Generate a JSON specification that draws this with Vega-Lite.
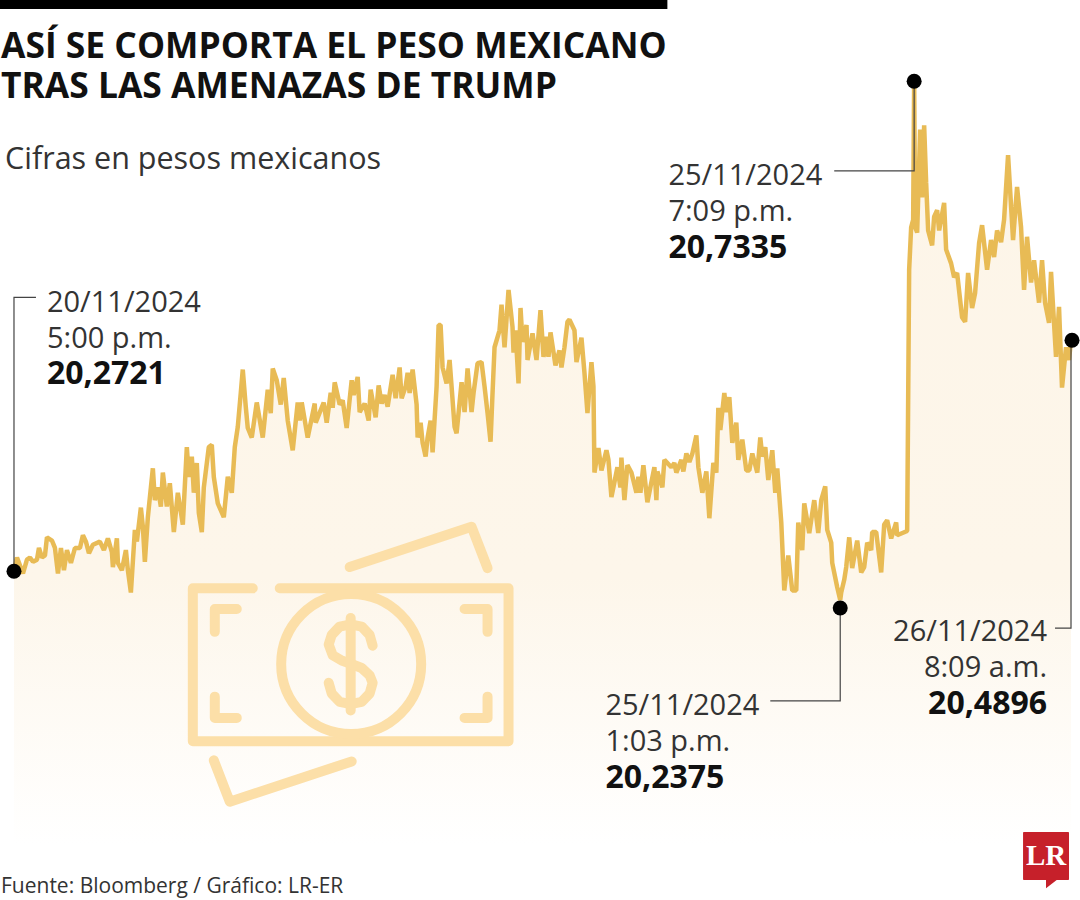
{
"$schema":"https://vega.github.io/schema/vega-lite/v6.json",
"width":1080,"height":900,
"autosize":{"type":"fit","contains":"padding"},
"padding":0,
"background":"white",
"config":{"view":{"stroke":null}},
"datasets":{
"series":[
{"t":14,"v":20.273},{"t":17,"v":20.285},{"t":19,"v":20.28},{"t":23,"v":20.27},{"t":27,"v":20.283},{"t":30,"v":20.285},{"t":33,"v":20.281},{"t":37,"v":20.283},{"t":39,"v":20.294},{"t":42,"v":20.285},{"t":45,"v":20.287},{"t":47,"v":20.304},{"t":52,"v":20.301},{"t":55,"v":20.294},{"t":58,"v":20.27},{"t":61,"v":20.294},{"t":64,"v":20.273},{"t":67,"v":20.292},{"t":71,"v":20.28},{"t":75,"v":20.294},{"t":80,"v":20.294},{"t":83,"v":20.306},{"t":86,"v":20.3},{"t":89,"v":20.289},{"t":93,"v":20.297},{"t":100,"v":20.3},{"t":104,"v":20.292},{"t":108,"v":20.303},{"t":112,"v":20.29},{"t":113,"v":20.276},{"t":117,"v":20.303},{"t":118,"v":20.28},{"t":122,"v":20.273},{"t":126,"v":20.292},{"t":128,"v":20.273},{"t":131,"v":20.252},{"t":135,"v":20.311},{"t":137,"v":20.3},{"t":141,"v":20.332},{"t":143,"v":20.314},{"t":145,"v":20.281},{"t":148,"v":20.323},{"t":153,"v":20.369},{"t":155,"v":20.339},{"t":158,"v":20.351},{"t":161,"v":20.333},{"t":163,"v":20.365},{"t":167,"v":20.333},{"t":170,"v":20.355},{"t":174,"v":20.309},{"t":178,"v":20.346},{"t":183,"v":20.316},{"t":187,"v":20.389},{"t":189,"v":20.361},{"t":192,"v":20.38},{"t":194,"v":20.346},{"t":197,"v":20.374},{"t":199,"v":20.327},{"t":202,"v":20.309},{"t":204,"v":20.351},{"t":209,"v":20.389},{"t":212,"v":20.391},{"t":214,"v":20.361},{"t":218,"v":20.336},{"t":224,"v":20.323},{"t":228,"v":20.361},{"t":232,"v":20.346},{"t":235,"v":20.389},{"t":238,"v":20.408},{"t":241,"v":20.44},{"t":243,"v":20.462},{"t":246,"v":20.427},{"t":248,"v":20.407},{"t":252,"v":20.398},{"t":257,"v":20.431},{"t":263,"v":20.398},{"t":268,"v":20.443},{"t":271,"v":20.421},{"t":273,"v":20.463},{"t":277,"v":20.452},{"t":281,"v":20.429},{"t":284,"v":20.454},{"t":288,"v":20.414},{"t":293,"v":20.386},{"t":298,"v":20.431},{"t":300,"v":20.414},{"t":302,"v":20.431},{"t":308,"v":20.398},{"t":315,"v":20.43},{"t":316,"v":20.412},{"t":324,"v":20.431},{"t":327,"v":20.412},{"t":331,"v":20.44},{"t":333,"v":20.426},{"t":335,"v":20.45},{"t":340,"v":20.429},{"t":343,"v":20.433},{"t":347,"v":20.407},{"t":352,"v":20.452},{"t":354,"v":20.438},{"t":358,"v":20.455},{"t":360,"v":20.422},{"t":365,"v":20.43},{"t":369,"v":20.414},{"t":371,"v":20.443},{"t":376,"v":20.417},{"t":379,"v":20.447},{"t":382,"v":20.43},{"t":385,"v":20.438},{"t":388,"v":20.427},{"t":393,"v":20.457},{"t":396,"v":20.435},{"t":400,"v":20.464},{"t":402,"v":20.435},{"t":406,"v":20.446},{"t":408,"v":20.459},{"t":410,"v":20.44},{"t":413,"v":20.462},{"t":417,"v":20.429},{"t":418,"v":20.398},{"t":421,"v":20.412},{"t":423,"v":20.393},{"t":426,"v":20.38},{"t":428,"v":20.398},{"t":431,"v":20.414},{"t":433,"v":20.384},{"t":437,"v":20.446},{"t":439,"v":20.504},{"t":441,"v":20.504},{"t":443,"v":20.464},{"t":447,"v":20.449},{"t":450,"v":20.471},{"t":452,"v":20.446},{"t":455,"v":20.408},{"t":457,"v":20.402},{"t":462,"v":20.45},{"t":465,"v":20.422},{"t":468,"v":20.463},{"t":472,"v":20.422},{"t":474,"v":20.44},{"t":478,"v":20.468},{"t":482,"v":20.469},{"t":485,"v":20.446},{"t":488,"v":20.421},{"t":491,"v":20.394},{"t":493,"v":20.44},{"t":495,"v":20.483},{"t":500,"v":20.499},{"t":502,"v":20.523},{"t":505,"v":20.483},{"t":509,"v":20.537},{"t":513,"v":20.502},{"t":514,"v":20.478},{"t":516,"v":20.499},{"t":519,"v":20.449},{"t":521,"v":20.52},{"t":523,"v":20.488},{"t":527,"v":20.504},{"t":528,"v":20.471},{"t":533,"v":20.496},{"t":537,"v":20.471},{"t":541,"v":20.518},{"t":544,"v":20.474},{"t":547,"v":20.493},{"t":549,"v":20.474},{"t":551,"v":20.497},{"t":556,"v":20.466},{"t":560,"v":20.48},{"t":562,"v":20.464},{"t":565,"v":20.483},{"t":568,"v":20.507},{"t":570,"v":20.509},{"t":575,"v":20.499},{"t":577,"v":20.469},{"t":582,"v":20.492},{"t":585,"v":20.459},{"t":588,"v":20.421},{"t":592,"v":20.469},{"t":594,"v":20.446},{"t":595,"v":20.365},{"t":599,"v":20.388},{"t":602,"v":20.367},{"t":607,"v":20.386},{"t":609,"v":20.377},{"t":612,"v":20.342},{"t":618,"v":20.37},{"t":621,"v":20.351},{"t":622,"v":20.379},{"t":625,"v":20.339},{"t":628,"v":20.372},{"t":632,"v":20.365},{"t":637,"v":20.346},{"t":639,"v":20.361},{"t":641,"v":20.346},{"t":644,"v":20.372},{"t":648,"v":20.337},{"t":655,"v":20.37},{"t":657,"v":20.339},{"t":658,"v":20.366},{"t":663,"v":20.351},{"t":665,"v":20.377},{"t":672,"v":20.37},{"t":675,"v":20.374},{"t":677,"v":20.365},{"t":682,"v":20.377},{"t":684,"v":20.366},{"t":687,"v":20.383},{"t":690,"v":20.375},{"t":693,"v":20.383},{"t":697,"v":20.4},{"t":699,"v":20.37},{"t":703,"v":20.346},{"t":707,"v":20.366},{"t":710,"v":20.322},{"t":714,"v":20.374},{"t":717,"v":20.365},{"t":719,"v":20.426},{"t":721,"v":20.405},{"t":725,"v":20.44},{"t":727,"v":20.422},{"t":730,"v":20.436},{"t":733,"v":20.393},{"t":737,"v":20.412},{"t":739,"v":20.377},{"t":743,"v":20.396},{"t":747,"v":20.367},{"t":750,"v":20.367},{"t":753,"v":20.383},{"t":758,"v":20.365},{"t":761,"v":20.398},{"t":763,"v":20.38},{"t":766,"v":20.389},{"t":769,"v":20.358},{"t":773,"v":20.386},{"t":776,"v":20.346},{"t":778,"v":20.369},{"t":782,"v":20.318},{"t":785,"v":20.254},{"t":789,"v":20.287},{"t":793,"v":20.254},{"t":797,"v":20.254},{"t":799,"v":20.318},{"t":803,"v":20.292},{"t":805,"v":20.336},{"t":810,"v":20.308},{"t":815,"v":20.339},{"t":819,"v":20.308},{"t":822,"v":20.339},{"t":826,"v":20.352},{"t":828,"v":20.311},{"t":832,"v":20.299},{"t":833,"v":20.28},{"t":838,"v":20.257},{"t":841,"v":20.245},{"t":842,"v":20.252},{"t":845,"v":20.264},{"t":847,"v":20.276},{"t":850,"v":20.304},{"t":853,"v":20.275},{"t":858,"v":20.301},{"t":862,"v":20.271},{"t":865,"v":20.276},{"t":868,"v":20.299},{"t":872,"v":20.292},{"t":873,"v":20.309},{"t":877,"v":20.309},{"t":882,"v":20.271},{"t":885,"v":20.316},{"t":888,"v":20.32},{"t":892,"v":20.303},{"t":897,"v":20.318},{"t":898,"v":20.306},{"t":908,"v":20.31},{"t":909,"v":20.433},{"t":910,"v":20.556},{"t":912,"v":20.596},{"t":914,"v":20.603},{"t":915,"v":20.7335},{"t":916,"v":20.596},{"t":918,"v":20.591},{"t":921,"v":20.688},{"t":923,"v":20.624},{"t":925,"v":20.692},{"t":927,"v":20.638},{"t":929,"v":20.593},{"t":933,"v":20.579},{"t":935,"v":20.606},{"t":938,"v":20.612},{"t":940,"v":20.593},{"t":945,"v":20.619},{"t":947,"v":20.575},{"t":952,"v":20.562},{"t":955,"v":20.549},{"t":958,"v":20.553},{"t":963,"v":20.511},{"t":966,"v":20.507},{"t":969,"v":20.553},{"t":973,"v":20.52},{"t":976,"v":20.534},{"t":980,"v":20.581},{"t":983,"v":20.598},{"t":988,"v":20.556},{"t":992,"v":20.584},{"t":995,"v":20.568},{"t":998,"v":20.593},{"t":1002,"v":20.582},{"t":1005,"v":20.603},{"t":1009,"v":20.664},{"t":1014,"v":20.584},{"t":1018,"v":20.634},{"t":1022,"v":20.596},{"t":1025,"v":20.537},{"t":1028,"v":20.587},{"t":1032,"v":20.544},{"t":1035,"v":20.565},{"t":1040,"v":20.525},{"t":1043,"v":20.565},{"t":1046,"v":20.525},{"t":1050,"v":20.506},{"t":1052,"v":20.554},{"t":1057,"v":20.474},{"t":1060,"v":20.521},{"t":1063,"v":20.445},{"t":1067,"v":20.483},{"t":1070,"v":20.471},{"t":1072,"v":20.4896}
],
"icon":[
{"part":"a","o":1,"t":350,"v":20.276},{"part":"a","o":2,"t":472,"v":20.314},{"part":"a","o":3,"t":488,"v":20.275},
{"part":"b","o":1,"t":214,"v":20.094},{"part":"b","o":2,"t":230,"v":20.055},{"part":"b","o":3,"t":352,"v":20.093},
{"part":"c","o":1,"t":253,"v":20.256},{"part":"c","o":2,"t":193,"v":20.256},{"part":"c","o":3,"t":193,"v":20.112},{"part":"c","o":4,"t":509,"v":20.112},{"part":"c","o":5,"t":509,"v":20.256},{"part":"c","o":6,"t":280,"v":20.256},
{"part":"d","o":1,"t":215,"v":20.215},{"part":"d","o":2,"t":215,"v":20.2365},{"part":"d","o":3,"t":237,"v":20.2365},
{"part":"e","o":1,"t":465,"v":20.2365},{"part":"e","o":2,"t":488,"v":20.2365},{"part":"e","o":3,"t":488,"v":20.215},
{"part":"f","o":1,"t":215,"v":20.154},{"part":"f","o":2,"t":215,"v":20.134},{"part":"f","o":3,"t":237,"v":20.134},
{"part":"g","o":1,"t":465,"v":20.134},{"part":"g","o":2,"t":488,"v":20.134},{"part":"g","o":3,"t":488,"v":20.154},
{"part":"h","o":1,"t":351,"v":20.228},{"part":"h","o":2,"t":351,"v":20.141},
{"part":"s","o":1,"t":373,"v":20.202},{"part":"s","o":2,"t":370,"v":20.212},{"part":"s","o":3,"t":362,"v":20.22},{"part":"s","o":4,"t":351,"v":20.222},{"part":"s","o":5,"t":340,"v":20.22},{"part":"s","o":6,"t":332,"v":20.212},{"part":"s","o":7,"t":329,"v":20.203},{"part":"s","o":8,"t":333,"v":20.193},{"part":"s","o":9,"t":342,"v":20.188},{"part":"s","o":10,"t":351,"v":20.185},{"part":"s","o":11,"t":362,"v":20.181},{"part":"s","o":12,"t":370,"v":20.174},{"part":"s","o":13,"t":373,"v":20.167},{"part":"s","o":14,"t":370,"v":20.157},{"part":"s","o":15,"t":362,"v":20.149},{"part":"s","o":16,"t":351,"v":20.147},{"part":"s","o":17,"t":340,"v":20.149},{"part":"s","o":18,"t":332,"v":20.157},{"part":"s","o":19,"t":329,"v":20.167}
],
"leaders":[
{"part":"a","o":1,"t":36,"v":20.53},{"part":"a","o":2,"t":14,"v":20.53},{"part":"a","o":3,"t":14,"v":20.2721},
{"part":"b","o":1,"t":835,"v":20.649},{"part":"b","o":2,"t":915,"v":20.649},{"part":"b","o":3,"t":915,"v":20.7335},
{"part":"c","o":1,"t":771,"v":20.15},{"part":"c","o":2,"t":841,"v":20.15},{"part":"c","o":3,"t":841,"v":20.2375},
{"part":"d","o":1,"t":1056,"v":20.2186},{"part":"d","o":2,"t":1072,"v":20.2186},{"part":"d","o":3,"t":1072,"v":20.4896}
],
"labels":[
{"kind":"title","t":1,"v":20.7554,"label":"ASÍ SE COMPORTA EL PESO MEXICANO"},
{"kind":"title","t":1,"v":20.7177,"label":"TRAS LAS AMENAZAS DE TRUMP"},
{"kind":"sub","t":5,"v":20.6509,"label":"Cifras en pesos mexicanos"},
{"kind":"date","t":47,"v":20.5162,"label":"20/11/2024"},
{"kind":"date","t":47,"v":20.4823,"label":"5:00 p.m."},
{"kind":"value","t":47,"v":20.4484,"label":"20,2721"},
{"kind":"date","t":669,"v":20.6358,"label":"25/11/2024"},
{"kind":"date","t":669,"v":20.6019,"label":"7:09 p.m."},
{"kind":"value","t":669,"v":20.5671,"label":"20,7335"},
{"kind":"date","t":606,"v":20.1367,"label":"25/11/2024"},
{"kind":"date","t":606,"v":20.1028,"label":"1:03 p.m."},
{"kind":"value","t":606,"v":20.068,"label":"20,2375"},
{"kind":"dater","t":1048,"v":20.2064,"label":"26/11/2024"},
{"kind":"dater","t":1048,"v":20.1725,"label":"8:09 a.m."},
{"kind":"valuer","t":1048,"v":20.1377,"label":"20,4896"},
{"kind":"source","t":1,"v":19.9691,"label":"Fuente: Bloomberg / Gráfico: LR-ER"}
]
},
"encoding":{
"x":{"field":"t","type":"quantitative","axis":null,"scale":{"domain":[0,1080],"nice":false,"zero":false}},
"y":{"field":"v","type":"quantitative","axis":null,"scale":{"domain":[19.9625,20.81],"nice":false,"zero":false}}
},
"layer":[
{"data":{"name":"series"},"mark":{"type":"area","fill":{"gradient":"linear","x1":0,"y1":0,"x2":0,"y2":1,"stops":[{"offset":0,"color":"#fdf5e8"},{"offset":0.65,"color":"#fdf6ea"},{"offset":1,"color":"#ffffff"}]},"stroke":null},"encoding":{"y2":{"datum":20.015}}},
{"data":{"name":"icon"},"mark":{"type":"line","stroke":"#fcdfa8","strokeWidth":10,"strokeCap":"round","strokeJoin":"round"},"encoding":{"detail":{"field":"part"},"order":{"field":"o"}}},
{"data":{"values":[{"t":351.5,"v":20.1847}]},"mark":{"type":"point","shape":"circle","size":19600,"filled":false,"stroke":"#fcdfa8","strokeWidth":10,"opacity":1}},
{"data":{"name":"series"},"mark":{"type":"line","stroke":"#e8bb55","strokeWidth":4.5,"strokeJoin":"bevel"}},
{"data":{"name":"leaders"},"mark":{"type":"line","stroke":"#444444","strokeWidth":1.2},"encoding":{"detail":{"field":"part"},"order":{"field":"o"}}},
{"data":{"values":[{"t":14,"v":20.2721},{"t":915,"v":20.7335},{"t":841,"v":20.2375},{"t":1073,"v":20.4896}]},"mark":{"type":"point","shape":"circle","filled":true,"fill":"#000000","stroke":null,"size":225,"opacity":1}},
{"data":{"values":[{"t":0,"v":20.81,"t2":668,"v2":20.8015}]},"mark":{"type":"rect","fill":"#000000"},"encoding":{"x2":{"field":"t2"},"y2":{"field":"v2"}}},
{"data":{"values":[{"t":1024,"v":20.0265,"t2":1070,"v2":19.9813}]},"mark":{"type":"rect","fill":"#c6202a","cornerRadius":1},"encoding":{"x2":{"field":"t2"},"y2":{"field":"v2"}}},
{"data":{"values":[{"t":1052,"v":19.9769}]},"mark":{"type":"point","shape":"M -1 -1 L 1.2 -1 L -1 0.7 Z","size":100,"filled":true,"fill":"#c6202a","stroke":null,"opacity":1}},
{"data":{"values":[{"t":1047,"v":19.9955,"label":"LR"}]},"mark":{"type":"text","font":"Liberation Serif","fontWeight":"bold","fontSize":29,"fill":"#ffffff","align":"center","baseline":"alphabetic"},"encoding":{"text":{"field":"label"}}},
{"data":{"name":"labels"},"transform":[{"filter":"datum.kind=='title'"}],"mark":{"type":"text","font":"Open Sans","fontWeight":"bold","fontSize":35.4,"fill":"#111111","align":"left","baseline":"alphabetic"},"encoding":{"text":{"field":"label"}}},
{"data":{"name":"labels"},"transform":[{"filter":"datum.kind=='sub'"}],"mark":{"type":"text","font":"Open Sans","fontSize":30.5,"fill":"#333333","align":"left","baseline":"alphabetic"},"encoding":{"text":{"field":"label"}}},
{"data":{"name":"labels"},"transform":[{"filter":"datum.kind=='date'"}],"mark":{"type":"text","font":"Open Sans","fontSize":29,"fill":"#333333","align":"left","baseline":"alphabetic"},"encoding":{"text":{"field":"label"}}},
{"data":{"name":"labels"},"transform":[{"filter":"datum.kind=='value'"}],"mark":{"type":"text","font":"Open Sans","fontWeight":"bold","fontSize":32,"fill":"#111111","align":"left","baseline":"alphabetic"},"encoding":{"text":{"field":"label"}}},
{"data":{"name":"labels"},"transform":[{"filter":"datum.kind=='dater'"}],"mark":{"type":"text","font":"Open Sans","fontSize":29,"fill":"#333333","align":"right","baseline":"alphabetic"},"encoding":{"text":{"field":"label"}}},
{"data":{"name":"labels"},"transform":[{"filter":"datum.kind=='valuer'"}],"mark":{"type":"text","font":"Open Sans","fontWeight":"bold","fontSize":32,"fill":"#111111","align":"right","baseline":"alphabetic"},"encoding":{"text":{"field":"label"}}},
{"data":{"name":"labels"},"transform":[{"filter":"datum.kind=='source'"}],"mark":{"type":"text","font":"Open Sans","fontSize":21,"fill":"#333333","align":"left","baseline":"alphabetic"},"encoding":{"text":{"field":"label"}}}
]
}
